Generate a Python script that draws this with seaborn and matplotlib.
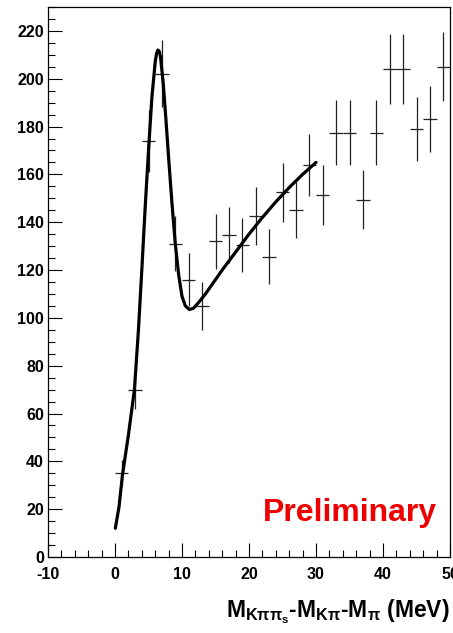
import matplotlib
matplotlib.use("Agg")
import matplotlib.pyplot as plt
from matplotlib.ticker import MultipleLocator
import seaborn as sns
import pandas as pd

# measured points (bin centres, 2 MeV bins)
bin_x = [1, 3, 5, 7, 9, 11, 13, 15, 17, 19, 21, 23, 25, 27, 29, 31, 33, 35, 37, 39, 41, 43, 45, 47, 49]
counts = [35, 70, 174, 202, 131, 116, 105, 132, 134.5, 130.5, 142.5, 125.5, 152.5, 145, 164, 151.5,
          177.5, 177.5, 149.5, 177.5, 204, 204, 179, 183, 205]
errors = [5.5, 8, 13, 14, 11.5, 11, 10, 11.6, 11.7, 11.4, 12.2, 11.5, 12.4, 11.8, 12.9, 12.5,
          13.7, 13.7, 12.5, 13.7, 14.6, 14.6, 13.5, 13.8, 14.4]

# fit curve
fit_x = [0.05, 0.6, 1.1, 2.0, 2.9, 3.5, 4.0, 4.5, 5.0, 5.5, 6.0, 6.2, 6.4, 6.6, 6.8, 7.2, 7.6, 8.0,
         8.5, 9.0, 9.5, 10.0, 10.5, 11.1, 11.7, 12.5, 13.5, 15, 16, 18, 20, 22, 24, 26, 28, 30]
fit_y = [12, 21, 34, 51, 70, 95, 120, 146, 170, 192, 207, 210.5, 212, 211.5, 209, 198, 183, 167,
         148, 131, 118, 109, 105, 103.5, 104, 106.5, 110, 116, 120, 127.5, 135, 142, 148.5, 154.5,
         160, 165]

sns.set_theme(style="ticks")
plt.rcParams["font.family"] = ["Liberation Sans", "DejaVu Sans"]
plt.rcParams["font.weight"] = "bold"
plt.rcParams["axes.unicode_minus"] = False
plt.rcParams["mathtext.fontset"] = "custom"
plt.rcParams["mathtext.rm"] = "Liberation Sans:bold"
plt.rcParams["mathtext.bf"] = "Liberation Sans:bold"
plt.rcParams["mathtext.it"] = "Liberation Sans:bold"
plt.rcParams["mathtext.default"] = "bf"

fig = plt.figure(figsize=(4.53, 6.33), dpi=100)
ax = fig.add_axes([48 / 453, 1 - 557 / 633, 402 / 453, 550 / 633])

ax.errorbar(bin_x, counts, yerr=errors, xerr=1, fmt="none", ecolor="#222222",
            elinewidth=0.9, capsize=0)

fit = pd.DataFrame({"x": fit_x, "y": fit_y})
sns.lineplot(data=fit, x="x", y="y", ax=ax, color="black", linewidth=2.3)

ax.set_xlim(-10, 50)
ax.set_ylim(0, 230)
ax.xaxis.set_major_locator(MultipleLocator(10))
ax.xaxis.set_minor_locator(MultipleLocator(2))
ax.yaxis.set_major_locator(MultipleLocator(20))
ax.yaxis.set_minor_locator(MultipleLocator(5))
ax.tick_params(which="both", direction="in", top=False, right=False, width=0.8,
               colors="black", labelcolor="black")
ax.tick_params(which="major", length=10, labelsize=11.5)
ax.tick_params(axis="x", which="major", pad=7)
ax.tick_params(axis="y", which="major", pad=3)
ax.tick_params(which="minor", length=4.7)
for lab in ax.get_xticklabels() + ax.get_yticklabels():
    lab.set_fontweight("bold")
for sp in ax.spines.values():
    sp.set_visible(True)
    sp.set_color("black")
    sp.set_linewidth(0.9)

ax.set_ylabel("")
ax.set_xlabel(r"$M_{K\pi\pi_s}$-$M_{K\pi}$-$M_\pi$ (MeV)", fontsize=16.5, fontweight="bold",
              color="black", loc="right", labelpad=11)

ax.text(0.968, 0.08, "Preliminary", transform=ax.transAxes, ha="right", va="center",
        color="#ee0000", fontsize=23, fontweight="bold")

fig.savefig("out.png", dpi=100)
